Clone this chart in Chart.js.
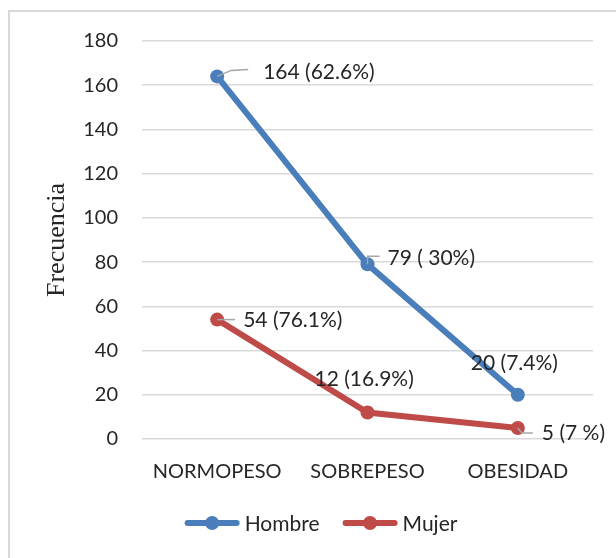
<!DOCTYPE html>
<html><head><meta charset="utf-8">
<script src="https://cdn.jsdelivr.net/npm/chart.js@4/dist/chart.umd.min.js"></script>
<style>html,body{margin:0;padding:0;background:#fff;}#wrap{width:616px;height:558px;position:relative;}</style>
</head><body><div id="wrap"><canvas id="c" width="616" height="558"></canvas></div>
<script>
const categories = ['NORMOPESO', 'SOBREPESO', 'OBESIDAD'];
const hombre = [164, 79, 20];
const mujer = [54, 12, 5];
const hombreLabels = ['164 (62.6%)', '79 ( 30%)', '20 (7.4%)'];
const mujerLabels = ['54 (76.1%)', '12 (16.9%)', '5 (7 %)'];
const yTicks = [0, 20, 40, 60, 80, 100, 120, 140, 160, 180];

const FONT = 'Lato, "Liberation Sans", sans-serif';
const TXT = '#262626';

// label placement (offsets relative to each point, and leader polylines)
const labelStyle = [
  [ {dx: 46, dy: -4, lead: [[0,0],[14,-6],[31,-7]]},
    {dx: 20, dy: -6, lead: [[0,0],[0,-8],[12,-8]]},
    {dx: -47, dy: -32, lead: null} ],
  [ {dx: 26, dy: 1, lead: [[0,0],[18,0]]},
    {dx: -53, dy: -33, lead: null},
    {dx: 24, dy: 5, lead: [[0,0],[4,5],[15,5]]} ]
];

const framePlugin = {
  id: 'frame',
  beforeDraw(chart) {
    const ctx = chart.ctx;
    ctx.save();
    ctx.fillStyle = '#fff';
    ctx.fillRect(0, 0, chart.width, chart.height);
    ctx.strokeStyle = '#d9d9d9';
    ctx.lineWidth = 2;
    ctx.beginPath();
    ctx.moveTo(9, chart.height + 5);
    ctx.lineTo(9, 11);
    ctx.lineTo(chart.width + 5, 11);
    ctx.stroke();
    ctx.restore();
  }
};

const labelPlugin = {
  id: 'dlabels',
  afterDatasetsDraw(chart) {
    const ctx = chart.ctx;
    const texts = [hombreLabels, mujerLabels];
    ctx.save();
    chart.data.datasets.forEach((ds, di) => {
      const meta = chart.getDatasetMeta(di);
      meta.data.forEach((pt, i) => {
        const st = labelStyle[di][i];
        if (st.lead) {
          ctx.strokeStyle = '#a6a6a6';
          ctx.lineWidth = 1.5;
          ctx.beginPath();
          st.lead.forEach((p, k) => {
            if (k === 0) ctx.moveTo(pt.x + p[0], pt.y + p[1]);
            else ctx.lineTo(pt.x + p[0], pt.y + p[1]);
          });
          ctx.stroke();
        }
        ctx.fillStyle = TXT;
        ctx.font = '21px ' + FONT;
        ctx.textAlign = 'left';
        ctx.textBaseline = 'middle';
        ctx.fillText(texts[di][i], pt.x + st.dx, pt.y + st.dy);
      });
    });
    ctx.restore();
  }
};

const legendPlugin = {
  id: 'customLegend',
  afterDraw(chart) {
    const ctx = chart.ctx;
    ctx.save();
    ctx.font = '21px ' + FONT;
    const lineW = 55, gapT = 5, gapItem = 23;
    const items = chart.data.datasets.map(ds => ({ds, tw: ctx.measureText(ds.label).width}));
    const total = items.reduce((s, it) => s + lineW + gapT + it.tw, 0) + gapItem * (items.length - 1);
    let x = 321 - total / 2;
    const y = 523;
    items.forEach(it => {
      ctx.strokeStyle = it.ds.borderColor;
      ctx.lineWidth = 6;
      ctx.lineCap = 'round';
      ctx.beginPath();
      ctx.moveTo(x + 3, y);
      ctx.lineTo(x + lineW - 3, y);
      ctx.stroke();
      ctx.fillStyle = it.ds.borderColor;
      ctx.beginPath();
      ctx.arc(x + lineW / 2, y, 7, 0, Math.PI * 2);
      ctx.fill();
      ctx.fillStyle = TXT;
      ctx.textAlign = 'left';
      ctx.textBaseline = 'middle';
      ctx.fillText(it.ds.label, x + lineW + gapT, y + 1);
      x += lineW + gapT + it.tw + gapItem;
    });
    ctx.restore();
  }
};

new Chart(document.getElementById('c'), {
  type: 'line',
  data: {
    labels: categories,
    datasets: [
      { label: 'Hombre', data: hombre, borderColor: '#4a7ebb', backgroundColor: '#4a7ebb',
        borderWidth: 6, pointRadius: 7, pointBackgroundColor: '#4a7ebb', pointBorderWidth: 0, tension: 0 },
      { label: 'Mujer', data: mujer, borderColor: '#be4b48', backgroundColor: '#be4b48',
        borderWidth: 6, pointRadius: 7, pointBackgroundColor: '#be4b48', pointBorderWidth: 0, tension: 0 }
    ]
  },
  options: {
    responsive: false,
    animation: false,
    devicePixelRatio: 1,
    layout: { padding: { top: 41, right: 23, bottom: 59, left: 10 } },
    plugins: { legend: { display: false }, tooltip: { enabled: false } },
    scales: {
      x: {
        offset: true,
        grid: { display: false, drawTicks: false },
        border: { display: false },
        ticks: { color: TXT, font: { family: FONT, size: 20 }, padding: 21, maxRotation: 0 },
        afterFit(s) { s.height = 60; }
      },
      y: {
        min: 0, max: 180,
        afterBuildTicks(s) { s.ticks = yTicks.map(v => ({value: v})); },
        grid: { color: '#d9d9d9', lineWidth: 1.5, drawTicks: false },
        border: { display: false },
        ticks: { color: TXT, font: { family: FONT, size: 20 }, padding: 24 },
        title: { display: true, text: 'Frecuencia', color: TXT,
                 font: { family: '"Liberation Serif", "Times New Roman", serif', size: 26 }, padding: {top: 32, bottom: 0} },
        afterFit(s) { s.width = 132; }
      }
    }
  },
  plugins: [framePlugin, labelPlugin, legendPlugin]
});
</script></body></html>
